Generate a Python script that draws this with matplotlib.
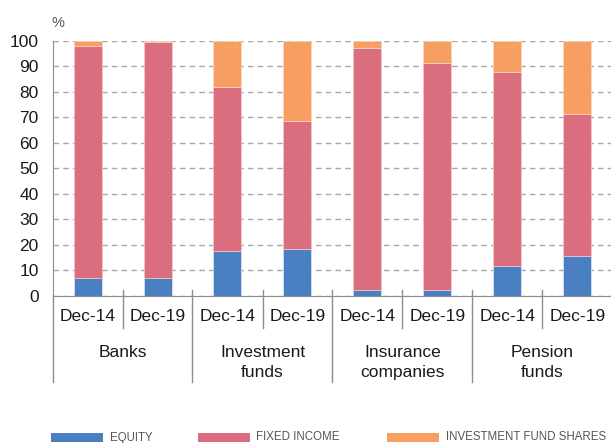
import matplotlib
matplotlib.use("Agg")
import matplotlib.pyplot as plt
from matplotlib.patches import Rectangle
import numpy as np

# data
groups = ["Banks", "Investment\nfunds", "Insurance\ncompanies", "Pension\nfunds"]
dates = ["Dec-14", "Dec-19"]
equity = [7.0, 6.7, 17.4, 18.1, 2.2, 2.2, 11.5, 15.5]
fixed_income = [91.2, 93.0, 64.6, 50.3, 95.2, 89.3, 76.4, 55.9]
fund_shares = [1.8, 0.3, 18.0, 31.6, 2.6, 8.5, 12.1, 28.6]
series_names = ["EQUITY", "FIXED INCOME", "INVESTMENT FUND SHARES"]

BLUE = "#4a7fc1"
PINK = "#db6e7e"
ORANGE = "#f79f62"
AXCOL = "#8c8c8c"

plt.rcParams['font.family'] = ['Liberation Sans', 'DejaVu Sans']

W, H = 611, 443
fig = plt.figure(figsize=(W / 100, H / 100), dpi=100)
ax = fig.add_axes([52.5 / W, 1 - 295.5 / H, 560 / W, 254.5 / H])

x = np.arange(len(equity))
eq = np.array(equity)
fi = np.array(fixed_income)
fs = np.array(fund_shares)
w = 0.4
ax.bar(x, eq, w, color=BLUE, edgecolor="#dfe6f2", linewidth=0.5)
ax.bar(x, fi, w, bottom=eq, color=PINK, edgecolor="#f3c9cf", linewidth=0.5)
ax.bar(x, fs, w, bottom=eq + fi, color=ORANGE, edgecolor="#fbd8bf", linewidth=0.5)

ax.set_xlim(-0.5, len(x) - 0.5)
ax.set_ylim(0, 100)
ax.set_yticks(np.arange(0, 101, 10))
ax.tick_params(axis='y', length=0, pad=10, labelsize=12.5, labelcolor="#1a1a1a")
ax.set_xticks([])
ax.yaxis.grid(True, linestyle=(0, (4, 3)), color="#a8a8a8", linewidth=1)
ax.set_axisbelow(True)
for s in ["top", "right"]:
    ax.spines[s].set_visible(False)
ax.spines["left"].set_color(AXCOL)
ax.spines["bottom"].set_color(AXCOL)

fig.text(58 / W, 1 - 23 / H, "%", fontsize=10.5, color="#555555",
         ha="center", va="center")

# two-level category axis
tr = ax.get_xaxis_transform()
for i in range(len(x)):
    ax.text(i, -0.083, dates[i % 2], transform=tr, ha="center", va="center",
            fontsize=12.5, color="#1a1a1a")
for g, name in enumerate(groups):
    ax.text(2 * g + 0.5, -0.193, name, transform=tr, ha="center", va="top",
            fontsize=12.5, color="#1a1a1a", linespacing=1.42)
    ax.plot([2 * g + 0.5] * 2, [0.0216, -0.1277], transform=tr, color=AXCOL,
            lw=1, clip_on=False)
    ax.plot([2 * g - 0.5] * 2, [0.0216 if g else 0, -0.34], transform=tr,
            color=AXCOL, lw=1, clip_on=False)

# legend, placed by hand (patch left, text left)
leg_x = [(51, 110), (198, 256.5), (387, 446)]
for (px, tx), col, name in zip(leg_x, [BLUE, PINK, ORANGE], series_names):
    fig.add_artist(Rectangle((px / W, 1 - 441.7 / H), 52 / W, 8.7 / H,
                             transform=fig.transFigure, color=col, lw=0))
    fig.text(tx / W, 1 - 437.5 / H, name, fontsize=8.3, color="#555555",
             ha="left", va="center")

fig.savefig("out.png", dpi=100)
